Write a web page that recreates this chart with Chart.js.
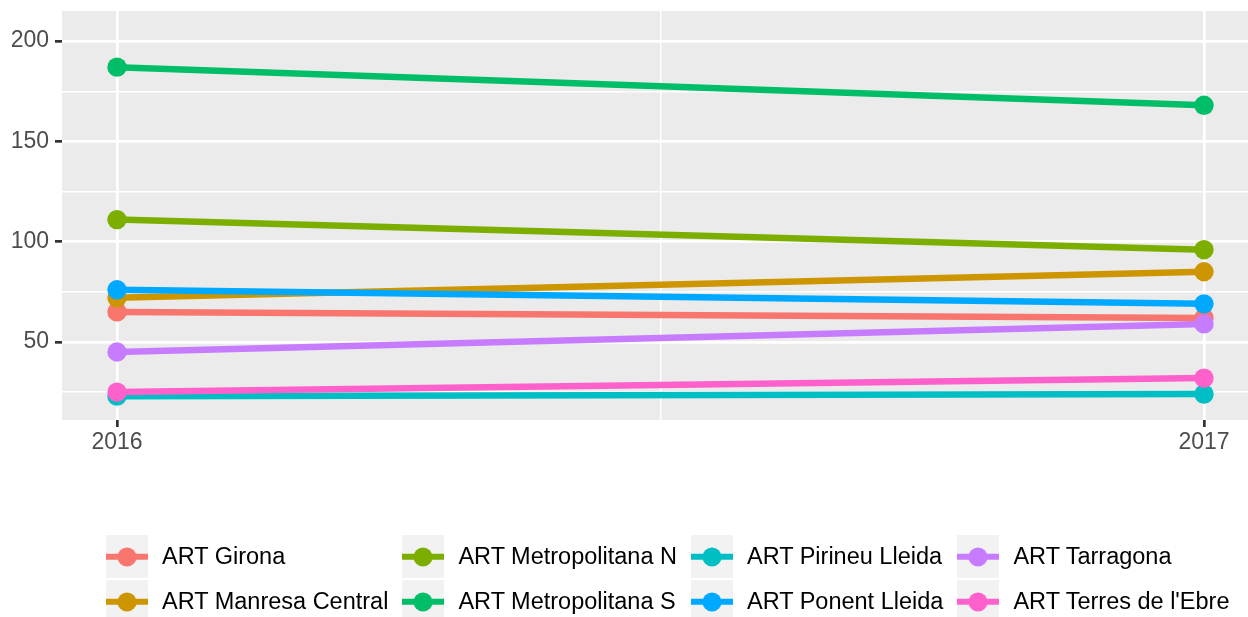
<!DOCTYPE html>
<html>
<head>
<meta charset="utf-8">
<script src="https://cdn.jsdelivr.net/npm/chart.js@4"></script>
<style>
  html, body { margin: 0; padding: 0; background: #fff; }
  #wrap { position: relative; width: 1248px; height: 617px; overflow: hidden; }
  #legend {
    position: absolute; left: 106px; top: 535px;
    display: grid; grid-auto-flow: column;
    grid-template-rows: 43px 43px; row-gap: 2px; column-gap: 14px;
    font-family: "Liberation Sans", Arial, sans-serif; font-size: 23.5px; color: #000;
  }
  .item { display: flex; align-items: center; }
  .key { position: relative; width: 42px; height: 43px; background: #F2F2F2; flex: none; }
  .key .ln { position: absolute; left: 0; right: 0; top: 50%; height: 6.5px; transform: translateY(-50%); }
  .key .dt { position: absolute; left: 50%; top: 50%; width: 19px; height: 19px; border-radius: 50%; transform: translate(-50%, -50%); }
  .item span { margin-left: 14px; white-space: nowrap; }
</style>
</head>
<body>
<div id="wrap">
  <canvas id="chart"></canvas>
  <div id="legend"></div>
</div>
<script>
const years = [2016, 2017];
const regions = ["ART Girona", "ART Manresa Central", "ART Metropolitana N", "ART Metropolitana S",
                 "ART Pirineu Lleida", "ART Ponent Lleida", "ART Tarragona", "ART Terres de l'Ebre"];
const colors = ["#F8766D", "#CD9600", "#7CAE00", "#00BE67", "#00BFC4", "#00A9FF", "#C77CFF", "#FF61CC"];

const girona = [65, 62];
const manresa = [72, 85];
const metroN = [111, 96];
const metroS = [187, 168];
const pirineu = [23, 24];
const ponent = [76, 69];
const tarragona = [45, 59];
const terres = [25, 32];
const values = [girona, manresa, metroN, metroS, pirineu, ponent, tarragona, terres];

const yTicks = [25, 50, 75, 100, 125, 150, 175, 200];
const xTicks = [2016, 2016.5, 2017];

Chart.defaults.font.family = "'Liberation Sans', Arial, sans-serif";
Chart.defaults.font.size = 23;

const n = regions.length;
const datasets = [];
// lines underneath, points on top, later groups above earlier ones (like ggplot)
regions.forEach((name, i) => {
    const pts = years.map((yr, j) => ({ x: yr, y: values[i][j] }));
    datasets.push({
        label: name, data: pts, borderColor: colors[i], backgroundColor: colors[i],
        borderWidth: 6.5, pointRadius: 0, order: 100 + (n - 1 - i)
    });
    datasets.push({
        label: name, data: pts, borderColor: colors[i], backgroundColor: colors[i],
        showLine: false, pointRadius: 9.7, pointBorderWidth: 0, order: n - 1 - i
    });
});

const panelBg = {
    id: "panelBg",
    beforeDraw(chart) {
        const a = chart.chartArea;
        const c = chart.ctx;
        c.save();
        c.fillStyle = "#EBEBEB";
        c.fillRect(a.left, a.top, a.right - a.left, a.bottom - a.top);
        c.restore();
    }
};

const isMajorY = v => v % 50 === 0;
const isMajorX = v => v === 2016 || v === 2017;

new Chart(document.getElementById("chart"), {
    type: "line",
    data: { datasets: datasets },
    options: {
        responsive: true,
        maintainAspectRatio: false,
        animation: false,
        layout: { autoPadding: false, padding: { top: 11, right: 0, bottom: 157, left: 0 } },
        plugins: { legend: { display: false }, tooltip: { enabled: false } },
        scales: {
            x: {
                type: "linear",
                min: 2015.9494,
                max: 2017.0405,
                afterBuildTicks: s => { s.ticks = xTicks.map(v => ({ value: v })); },
                afterFit: s => { s.height = 40; s.paddingLeft = 0; s.paddingRight = 0; },
                border: { display: false },
                grid: {
                    color: "#FFFFFF",
                    lineWidth: c => isMajorX(c.tick.value) ? 2.7 : 1.4,
                    tickLength: 7,
                    tickWidth: 2.7,
                    tickColor: c => isMajorX(c.tick.value) ? "#333333" : "rgba(0,0,0,0)"
                },
                ticks: {
                    color: "#4D4D4D",
                    padding: 2,
                    maxRotation: 0,
                    callback: v => isMajorX(v) ? String(v) : ""
                }
            },
            y: {
                min: 11.1,
                max: 215.0,
                afterBuildTicks: s => { s.ticks = yTicks.map(v => ({ value: v })); },
                afterFit: s => { s.width = 62; s.paddingTop = 0; s.paddingBottom = 0; },
                border: { display: false },
                grid: {
                    color: "#FFFFFF",
                    lineWidth: c => isMajorY(c.tick.value) ? 2.7 : 1.4,
                    tickLength: 7,
                    tickWidth: 2.7,
                    tickColor: c => isMajorY(c.tick.value) ? "#333333" : "rgba(0,0,0,0)"
                },
                ticks: {
                    color: "#4D4D4D",
                    padding: 6,
                    callback: v => isMajorY(v) ? String(v) : ""
                }
            }
        }
    },
    plugins: [panelBg]
});

// legend, column-major like ggplot
const legend = document.getElementById("legend");
regions.forEach((name, i) => {
    const item = document.createElement("div");
    item.className = "item";
    item.innerHTML = '<div class="key"><div class="ln" style="background:' + colors[i] + '"></div>' +
        '<div class="dt" style="background:' + colors[i] + '"></div></div>';
    const label = document.createElement("span");
    label.textContent = name;
    item.appendChild(label);
    legend.appendChild(item);
});
</script>
</body>
</html>
